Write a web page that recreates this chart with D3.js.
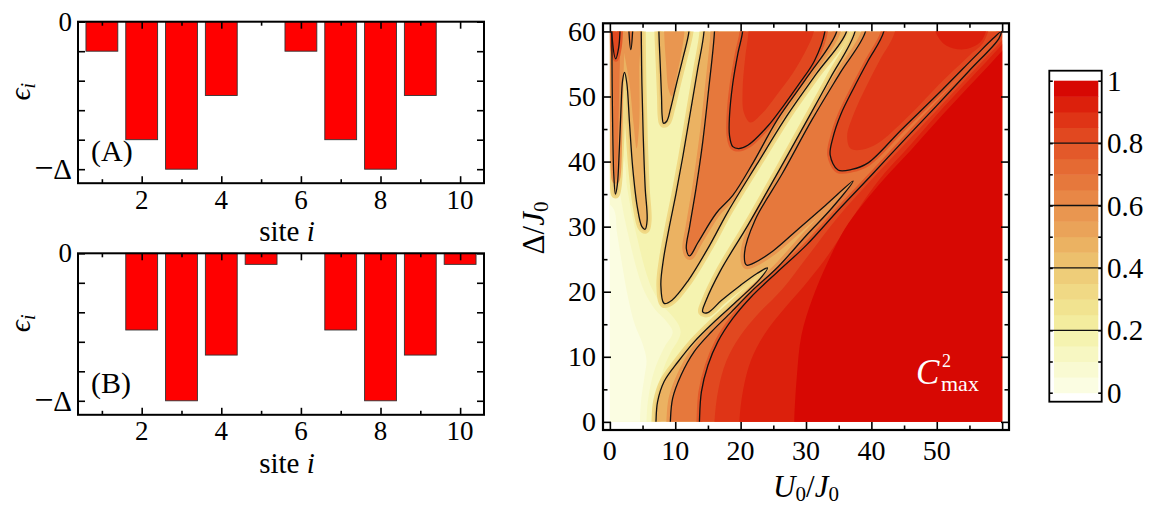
<!DOCTYPE html>
<html>
<head>
<meta charset="utf-8">
<title>Site energies and C2max</title>
<script src="https://cdn.jsdelivr.net/npm/d3@7"></script>
<style>
    body { margin: 0; background: #fff; }
</style>
</head>
<body>
<svg id="fig" width="1149" height="508"></svg>
<script>
    // ---- bar panels: site energies in units of Delta ----
    const sites = [1, 2, 3, 4, 5, 6, 7, 8, 9, 10];
    const epsA = [-0.2, -0.8, -1, -0.5, 0, -0.2, -0.8, -1, -0.5, 0];
    const epsB = [0, -0.52, -1, -0.69, -0.075, 0, -0.52, -1, -0.69, -0.075];
    const siteMajor = [2, 4, 6, 8, 10];
    const siteMinor = [1, 3, 5, 7, 9];
    const epsTicks = [0, -0.2, -0.4, -0.6, -0.8, -1];

    // ---- contour panel: C^2_max over (U0/J0, Delta/J0), contours ----
    const uLabels = [0, 10, 20, 30, 40, 50];
    const dLabels = [0, 10, 20, 30, 40, 50, 60];
    const majorTicks = [0, 10, 20, 30, 40, 50, 60];
    const minorTicks = [5, 15, 25, 35, 45, 55];

    // low region, lower left
    const paleOuter = [[-4,-4],[5.6,-4],[5.6,0],[5.8,3],[6.3,6],[7.2,9],[8.4,11.6],[9.6,13.8],[8.6,15.5],[6.9,17.3],[5.3,20],[4.1,23.5],[3.1,27.5],[2.2,31.5],[1.4,36],[0.6,41],[-4,44]];
    const paleInner = [[-4,-4],[4.6,-4],[4.6,0],[4.8,3.5],[5.3,7],[5.6,9.5],[5,12],[3.8,15],[2.8,19],[1.9,24],[1.1,29],[0.4,33],[-4,35]];

    // 0.4 contours
    const fingerA40 = [[0.25,64],[0.3,60],[0.35,52],[0.45,44],[0.6,38],[0.85,35],[1.15,36.5],[1.45,42],[1.7,48],[1.95,52.5],[2.25,53.7],[2.6,52],[3.0,46],[3.5,39],[4.2,33],[4.9,30],[5.4,29.6],[5.7,31],[5.4,36],[5.1,44],[4.9,52],[4.8,60],[4.8,64]];
    const fingerB40 = [[7.5,64],[7.5,60],[7.7,55],[7.9,50],[8.0,47],[8.2,45.9],[8.7,46.2],[9.3,48.2],[10.2,52],[11.2,56],[12.1,60],[12.2,64]];
    const fingerC40 = [[14.4,64],[14.4,60],[13.4,54],[12.3,47.5],[11.2,41],[10.1,35],[9.1,30],[8.2,25],[7.8,21],[8.3,18.2],[9.5,18.7],[11.9,21.6],[15.3,27.2],[18.0,32.2],[22.5,39.6],[27.2,47.2],[31.6,53.5],[36.2,60],[36.3,64]];
    const ridgeD40 = [[37.5,64],[37.5,60],[33.7,52.8],[30.3,46.6],[25.8,38.5],[21.1,30.2],[16.9,23.2],[14.7,18.6],[14.2,16.9],[15,16.8],[17,18.6],[20,21],[22.5,22.8],[24.1,23.65],[22.9,21.9],[19.7,18.8],[16.1,15.5],[12.9,12.3],[10.4,9.2],[8.3,6.2],[7.3,3.1],[7.05,0],[7,-4],[64,-4],[64,64]];
    const fingerA55 = [[1.9,64],[2.0,58],[2.4,55.5],[3.0,52],[3.6,46],[4.1,42],[4.5,46],[4.5,54],[4.4,64]];
    const fingerB55 = [[8.3,64],[8.3,60],[8.6,55],[9.0,51],[9.5,50],[10.3,53.5],[11,57],[11.4,60],[11.5,64]];

    // 0.6 contours
    const fingerA60 = [[0.4,64],[0.45,58],[0.5,50],[0.6,43],[0.75,38.5],[0.9,37.2],[1.1,38.5],[1.3,45],[1.45,52],[1.6,58],[1.65,64]];
    const fingerA60b = [[2.9,64],[2.95,59.5],[3.2,57.2],[3.45,59.5],[3.5,64]];
    const fingerC60 = [[16,64],[16,60],[15.1,51],[14.2,43],[13.2,36],[12.2,30],[11.7,26.6],[12.2,25.5],[13.5,27.6],[16.3,32.1],[18.8,34.8],[21.9,39.8],[25.6,46.4],[30.2,53],[34.7,60],[34.8,64]];
    const ridgeD60 = [[39.1,64],[39.1,60],[35.2,53.6],[30.9,46.4],[26.4,38.2],[22.2,31],[20.6,26],[20.9,24.1],[22,24.4],[25,26.3],[29,29.8],[33,33.3],[37.2,37],[34,32.9],[30,28.6],[25.7,23.8],[21.6,20.0],[18.6,16.9],[15.5,13.8],[12.9,10.8],[10.9,7.2],[9.6,3.6],[9.25,0],[9.2,-4],[64,-4],[64,64]];

    // 0.8 contours
    const spikeA80 = [[0.35,64],[0.4,58.5],[0.9,55.8],[1.35,57.5],[1.55,60],[1.6,64]];
    const lobe1 = [[20.3,64],[20.3,60],[19.6,56.7],[18.8,52],[18.3,47],[18.3,44],[18.8,42.3],[19.7,42],[21.1,42.5],[24.2,45.5],[26.5,48.5],[29,52],[31.3,55.5],[32.9,60],[33,64]];
    const ridgeD80 = [[41.9,64],[41.9,60],[39.5,55.5],[37.4,51.5],[35.3,47.2],[34.1,43.6],[33.7,41],[34.9,38.7],[37,38.8],[39.5,39.8],[44.6,44.9],[50.8,51],[55.9,56.2],[58.6,58.9],[59.8,59.9],[59.5,58.9],[55,54],[50,48.6],[45,43.3],[40,37.9],[35,32.6],[30.1,27.2],[25.7,23.1],[21.6,19.2],[18.8,15.9],[16.5,12.3],[15,8.7],[14,4.6],[13.7,0],[13.65,-4],[64,-4],[64,64]];

    // shading inside the high regions (no drawn contour)
    const lobe1in = [[21.2,64],[21.2,60],[20.7,56],[20.3,51],[20.5,47.5],[21.5,46],[23.2,47.3],[25.5,50.2],[28,53.6],[30.2,57.5],[31.2,60],[31.5,64]];
    const lobe2in = [[43.6,64],[43.6,60],[41.3,55.6],[39.2,51.5],[37.3,47.3],[36.3,44],[36.8,42],[38.5,41.8],[41,42.8],[45.5,46.8],[51,52.5],[55.2,56.5],[57.3,58.6],[58,64]];
    const lobe2core = [[49.5,64],[49.8,60],[51.5,57.8],[54.5,57.3],[57,58.8],[57.5,64]];
    const slope85 = [[16,-4],[16,0],[16.6,5],[17.8,9.3],[19.8,13],[22.7,16.6],[26.3,20.3],[30.3,25.5],[35,31.6],[40,37.2],[45,42.6],[50,47.9],[55,53.3],[60,58.6],[64,63],[64,-4]];
    const slope90 = [[19.8,-4],[19.8,0],[20.4,5],[21.6,9.5],[23.6,13.4],[26.6,17.3],[30.2,21.5],[33.5,25.8],[36.5,30.4],[39,34.2],[42,38.2],[46,42.6],[50,47.2],[55,52.6],[60,58],[64,62.5],[64,-4]];
    const slope95 = [[28.2,-4],[28.2,0],[28.6,7],[29.3,13.3],[31,19],[33.3,24.5],[35.9,29.6],[38.5,33.2],[42,37.4],[46,41.7],[50,46.2],[55,51.6],[60,57],[64,61.5],[64,-4]];

    const cbTicks = [0, 0.2, 0.4, 0.6, 0.8, 1];
    const cbLabels = ["0", "0.2", "0.4", "0.6", "0.8", "1"];
    const cbLines = [0.2, 0.4, 0.6, 0.8];

    // 20 shading bands, 0 .. 1
    const bandColors = [
        "#fbfde2", "#f9fad2", "#f7f7c2", "#f5f3b0", "#f3ec9e",
        "#f1e390", "#f0d985", "#eecd79", "#ecc06d", "#ebb262",
        "#eaa359", "#e99650", "#e88746", "#e6783c", "#e56a33",
        "#e3592a", "#e14820", "#df3416", "#dc200c", "#d70803"
    ];
    const band = v => bandColors[Math.max(0, Math.min(19, Math.floor(v * 20 + 1e-6)))];

    const serif = "'Liberation Serif', 'Times New Roman', 'DejaVu Serif', serif";
    const svg = d3.select("#fig").attr("font-family", serif);

    // ================= bar panels =================
    const bx = d3.scaleLinear().domain([0.4, 10.6]).range([78, 484]);

    function ticks(g, axis) {
        g.call(axis.tickFormat(""));
        g.select(".domain").remove();
        g.selectAll(".tick line").attr("stroke", "#000").attr("stroke-width", 1.6);
    }

    function barPanel(values, top, tag) {
        const by = d3.scaleLinear().domain([-1.095, 0]).range([top + 161.5, top]);
        const g = svg.append("g").attr("font-family", serif);

        g.selectAll("rect.bar")
            .data(sites.map((s, k) => ({ s: s, v: values[k] })).filter(d => d.v < 0))
            .enter().append("rect")
            .attr("class", "bar")
            .attr("x", d => bx(d.s - 0.4))
            .attr("width", bx(0.8) - bx(0))
            .attr("y", by(0))
            .attr("height", d => by(d.v) - by(0))
            .attr("fill", "#ff0000")
            .attr("stroke", "#333")
            .attr("stroke-width", 0.9);

        const b = by(-1.095), t = by(0);
        g.append("g").attr("transform", "translate(0," + b + ")").call(ticks, d3.axisBottom(bx).tickValues(siteMajor).tickSize(-7));
        g.append("g").attr("transform", "translate(0," + b + ")").call(ticks, d3.axisBottom(bx).tickValues(siteMinor).tickSize(-4));
        g.append("g").attr("transform", "translate(0," + t + ")").call(ticks, d3.axisTop(bx).tickValues(siteMajor).tickSize(-7));
        g.append("g").attr("transform", "translate(0," + t + ")").call(ticks, d3.axisTop(bx).tickValues(siteMinor).tickSize(-4));
        g.append("g").attr("transform", "translate(" + bx(0.4) + ",0)").call(ticks, d3.axisLeft(by).tickValues(epsTicks).tickSize(-7));
        g.append("g").attr("transform", "translate(" + bx(10.6) + ",0)").call(ticks, d3.axisRight(by).tickValues(epsTicks).tickSize(-7));

        g.append("rect")
            .attr("x", bx(0.4)).attr("y", t)
            .attr("width", bx(10.6) - bx(0.4)).attr("height", b - t)
            .attr("fill", "none").attr("stroke", "#000").attr("stroke-width", 2);

        g.selectAll("text.xl").data(siteMajor).enter().append("text")
            .attr("x", d => bx(d)).attr("y", b + 25.5)
            .attr("text-anchor", "middle").attr("font-size", 27)
            .text(d => d);

        g.append("text").attr("x", 72).attr("y", by(0) + 9).attr("text-anchor", "end").attr("font-size", 27).text("0");
        const md = g.append("text").attr("x", 72).attr("y", by(-1) + 10).attr("text-anchor", "end").attr("font-size", 29);
        md.append("tspan").attr("font-size", 34).text("\u2212");
        md.append("tspan").text("\u0394");

        const xl = g.append("text").attr("x", 287).attr("y", b + 58).attr("text-anchor", "middle").attr("font-size", 29);
        xl.append("tspan").text("site ");
        xl.append("tspan").attr("font-style", "italic").text("i");

        const yl = g.append("text")
            .attr("transform", "translate(30," + (top + 70) + ") rotate(-90)")
            .attr("text-anchor", "middle").attr("font-size", 30);
        yl.append("tspan").attr("font-style", "italic").text("\u03f5");
        yl.append("tspan").attr("font-style", "italic").attr("font-size", 20).attr("dy", 5).text("i");

        g.append("text").attr("x", 91).attr("y", by(-1) - 8).attr("font-size", 30).text(tag);
    }

    barPanel(epsA, 21.7, "(A)");
    barPanel(epsB, 253.3, "(B)");

    // ================= contour panel =================
    const cx = d3.scaleLinear().domain([-1.05, 61.05]).range([603, 1009]);
    const cy = d3.scaleLinear().domain([-1.25, 61.25]).range([430, 23.3]);

    svg.append("clipPath").attr("id", "plotclip")
        .append("rect")
        .attr("x", cx(0)).attr("y", cy(60))
        .attr("width", cx(60) - cx(0)).attr("height", cy(0) - cy(60));

    const shape = d3.line()
        .x(d => cx(d[0])).y(d => cy(d[1]))
        .curve(d3.curveCatmullRomClosed.alpha(0.5));

    const stages = [
        { shapes: [paleOuter], level: 0.05, halo: [[0.15, 30], [0.1, 16]] },
        { shapes: [paleInner], level: 0 },
        { shapes: [fingerA40, fingerB40, fingerC40, ridgeD40], level: 0.45, halo: [[0.3, 9], [0.35, 4.5]], line: true },
        { shapes: [fingerA55, fingerB55], level: 0.55 },
        { shapes: [fingerA60, fingerC60, ridgeD60], level: 0.65, halo: [[0.55, 8]], line: [false, true, true] },
        { shapes: [fingerA60b], level: 0.65, line: true },
        { shapes: [spikeA80, lobe1, ridgeD80], level: 0.8, halo: [[0.75, 6]], line: true },
        { shapes: [lobe1in, lobe2in, slope85], level: 0.85 },
        { shapes: [lobe2core, slope90], level: 0.9 },
        { shapes: [slope95], level: 0.95 }
    ];

    const plot = svg.append("g").attr("clip-path", "url(#plotclip)");
    plot.append("rect")
        .attr("x", cx(0)).attr("y", cy(60))
        .attr("width", cx(60) - cx(0)).attr("height", cy(0) - cy(60))
        .attr("fill", band(0.15));

    const outlines = [];
    stages.forEach(st => {
        (st.halo || []).forEach(h => {
            plot.append("g").selectAll("path").data(st.shapes).enter().append("path")
                .attr("d", shape).attr("fill", "none")
                .attr("stroke", band(h[0])).attr("stroke-width", h[1])
                .attr("stroke-linejoin", "round");
        });
        plot.append("g").selectAll("path").data(st.shapes).enter().append("path")
            .attr("d", shape).attr("fill", band(st.level)).attr("stroke", "none");
        st.shapes.forEach((s, k) => {
            const on = Array.isArray(st.line) ? st.line[k] : st.line;
            if (on) outlines.push(s);
        });
    });

    plot.append("g").selectAll("path").data(outlines).enter().append("path")
        .attr("d", shape).attr("fill", "none")
        .attr("stroke", "#111").attr("stroke-width", 1.3);

    // C^2_max label
    const cm = svg.append("text").attr("fill", "#fff");
    cm.append("tspan").attr("x", 916).attr("y", 384).attr("font-size", 35).attr("font-style", "italic").text("C");
    cm.append("tspan").attr("x", 942).attr("y", 366.5).attr("font-size", 18).text("2");
    cm.append("tspan").attr("x", 941).attr("y", 391).attr("font-size", 22).text("max");

    // frame ticks
    const fb = cy(-1.25), ft = cy(61.25), fl = cx(-1.05), fr = cx(61.05);
    svg.append("g").attr("transform", "translate(0," + fb + ")").call(ticks, d3.axisBottom(cx).tickValues(majorTicks).tickSize(-8));
    svg.append("g").attr("transform", "translate(0," + fb + ")").call(ticks, d3.axisBottom(cx).tickValues(minorTicks).tickSize(-4.5));
    svg.append("g").attr("transform", "translate(0," + ft + ")").call(ticks, d3.axisTop(cx).tickValues(majorTicks).tickSize(-8));
    svg.append("g").attr("transform", "translate(0," + ft + ")").call(ticks, d3.axisTop(cx).tickValues(minorTicks).tickSize(-4.5));
    svg.append("g").attr("transform", "translate(" + fl + ",0)").call(ticks, d3.axisLeft(cy).tickValues(majorTicks).tickSize(-8));
    svg.append("g").attr("transform", "translate(" + fl + ",0)").call(ticks, d3.axisLeft(cy).tickValues(minorTicks).tickSize(-4.5));
    svg.append("g").attr("transform", "translate(" + fr + ",0)").call(ticks, d3.axisRight(cy).tickValues(majorTicks).tickSize(-8));
    svg.append("g").attr("transform", "translate(" + fr + ",0)").call(ticks, d3.axisRight(cy).tickValues(minorTicks).tickSize(-4.5));

    svg.append("rect").attr("x", fl).attr("y", ft).attr("width", fr - fl).attr("height", fb - ft)
        .attr("fill", "none").attr("stroke", "#000").attr("stroke-width", 2.2);

    const lab = svg.append("g").attr("font-family", serif);
    lab.selectAll("text.ul").data(uLabels).enter().append("text")
        .attr("x", d => cx(d)).attr("y", 460)
        .attr("text-anchor", "middle").attr("font-size", 28).text(d => d);
    lab.selectAll("text.dl").data(dLabels).enter().append("text")
        .attr("x", 596).attr("y", d => cy(d) + 9.5)
        .attr("text-anchor", "end").attr("font-size", 28).text(d => d);

    const ux = lab.append("text").attr("x", 806).attr("y", 497).attr("text-anchor", "middle").attr("font-size", 31);
    ux.append("tspan").attr("font-style", "italic").text("U");
    ux.append("tspan").attr("font-size", 21).attr("dy", 4).text("0");
    ux.append("tspan").attr("dy", -4).text("/");
    ux.append("tspan").attr("font-style", "italic").text("J");
    ux.append("tspan").attr("font-size", 21).attr("dy", 4).text("0");

    const dyl = lab.append("text").attr("transform", "translate(544,228) rotate(-90)")
        .attr("text-anchor", "middle").attr("font-size", 31);
    dyl.append("tspan").text("\u0394/");
    dyl.append("tspan").attr("font-style", "italic").text("J");
    dyl.append("tspan").attr("font-size", 21).attr("dy", 4).text("0");

    // ================= colour bar =================
    const cb = d3.scaleLinear().domain([0, 1]).range([392.7, 80.7]);
    const cbx0 = 1054, cbx1 = 1098.3, cbl = 1049.3, cbr = 1101.7;
    svg.append("g").selectAll("rect").data(d3.range(20)).enter().append("rect")
        .attr("x", cbx0).attr("width", cbx1 - cbx0)
        .attr("y", k => cb((k + 1) / 20)).attr("height", k => cb(k / 20) - cb((k + 1) / 20) + 0.5)
        .attr("fill", k => bandColors[k]);
    svg.append("g").selectAll("line").data(cbLines).enter().append("line")
        .attr("x1", cbl).attr("x2", cbr).attr("y1", d => cb(d)).attr("y2", d => cb(d))
        .attr("stroke", "#111").attr("stroke-width", 1.3);
    const cbTickVals = d3.range(11).map(k => k / 10);
    svg.append("g").attr("transform", "translate(" + cbl + ",0)").call(ticks, d3.axisLeft(cb).tickValues(cbTickVals).tickSize(-3.5));
    svg.append("g").attr("transform", "translate(" + cbr + ",0)").call(ticks, d3.axisRight(cb).tickValues(cbTickVals).tickSize(-3.5));
    svg.append("rect").attr("x", cbl).attr("y", 70.7).attr("width", cbr - cbl).attr("height", 401.7 - 70.7)
        .attr("fill", "none").attr("stroke", "#000").attr("stroke-width", 1.8);
    lab.selectAll("text.cbl").data(cbTicks).enter().append("text")
        .attr("x", 1107).attr("y", d => cb(d) + 10)
        .attr("font-size", 29).text((d, k) => cbLabels[k]);
</script>
</body>
</html>
